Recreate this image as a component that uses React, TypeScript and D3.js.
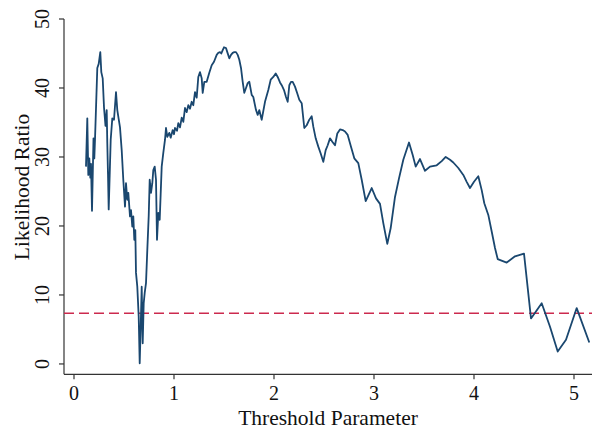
import React from "react";
import * as d3 from "d3";

const thresholds = [
  0.12, 0.133, 0.143, 0.153, 0.163, 0.17, 0.18, 0.195, 0.203, 0.21, 0.233, 0.247, 0.263, 0.273, 0.287, 0.3,
  0.315, 0.327, 0.333, 0.34, 0.347, 0.367, 0.383, 0.4, 0.42, 0.433, 0.447, 0.46, 0.477, 0.493, 0.51, 0.52,
  0.533, 0.543, 0.56, 0.57, 0.583, 0.593, 0.603, 0.613, 0.62, 0.633, 0.647, 0.657, 0.667, 0.677, 0.687, 0.697,
  0.707, 0.72, 0.733, 0.747, 0.757, 0.77, 0.783, 0.793, 0.807, 0.82, 0.83, 0.843, 0.857, 0.877, 0.893, 0.91,
  0.92, 0.933, 0.953, 0.967, 0.987, 1.0, 1.01, 1.03, 1.043, 1.06, 1.077, 1.093, 1.11, 1.127, 1.143, 1.16,
  1.177, 1.193, 1.21, 1.227, 1.243, 1.26, 1.277, 1.287, 1.303, 1.327, 1.353, 1.377, 1.4, 1.427, 1.443, 1.46,
  1.473, 1.487, 1.5, 1.52, 1.533, 1.553, 1.57, 1.587, 1.603, 1.62, 1.637, 1.653, 1.67, 1.687, 1.703, 1.72,
  1.737, 1.753, 1.777, 1.793, 1.82, 1.837, 1.853, 1.877, 1.91, 1.943, 1.967, 1.993, 2.017, 2.037, 2.06, 2.077,
  2.1, 2.12, 2.137, 2.153, 2.17, 2.187, 2.21, 2.233, 2.253, 2.277, 2.303, 2.327, 2.353, 2.377, 2.393, 2.417,
  2.443, 2.467, 2.493, 2.517, 2.537, 2.56, 2.583, 2.61, 2.633, 2.66, 2.687, 2.71, 2.737, 2.77, 2.803, 2.843,
  2.877, 2.917, 2.977, 3.02, 3.06, 3.093, 3.133, 3.167, 3.21, 3.25, 3.293, 3.35, 3.387, 3.417, 3.46, 3.51,
  3.56, 3.627, 3.677, 3.717, 3.76, 3.793, 3.843, 3.893, 3.927, 3.96, 4.0, 4.043, 4.077, 4.103, 4.143, 4.177,
  4.21, 4.237, 4.327, 4.41, 4.5, 4.57, 4.677, 4.76, 4.837, 4.92, 5.027, 5.153,
];

const likelihoodRatio = [
  28.6, 35.6, 27.4, 29.8, 27.0, 29.0, 22.2, 32.7, 29.8, 32.5, 42.9, 43.5, 45.2, 42.3, 41.4, 37.2,
  34.5, 36.8, 32.0, 27.5, 22.4, 32.5, 35.6, 35.4, 39.4, 36.8, 35.5, 34.3, 31.0, 26.7, 22.8, 26.2,
  23.8, 24.8, 21.4, 22.3, 19.9, 21.4, 18.0, 19.4, 13.2, 11.2, 6.9, 0.1, 5.4, 11.2, 3.0, 8.8,
  10.3, 11.7, 16.5, 21.4, 26.7, 24.8, 26.2, 28.1, 28.6, 26.7, 18.0, 21.9, 20.9, 28.6, 30.6, 32.5,
  34.2, 32.9, 33.5, 32.8, 33.9, 33.3, 34.2, 33.8, 34.9, 34.3, 35.7, 35.1, 37.1, 36.5, 37.5, 37.0,
  38.0, 37.5, 39.4, 38.6, 41.6, 42.3, 41.4, 39.3, 40.9, 40.9, 42.2, 43.3, 43.8, 44.8, 45.1, 45.2,
  45.0, 45.5, 45.9, 45.8, 45.2, 44.3, 44.8, 45.1, 45.2, 45.2, 44.8, 44.1, 42.9, 40.9, 39.3, 40.0,
  40.7, 40.9, 39.0, 38.7, 36.8, 36.1, 36.8, 35.4, 38.0, 39.7, 41.2, 41.6, 42.1, 41.6, 40.8, 40.4,
  39.7, 38.7, 38.0, 40.4, 40.9, 40.9, 40.2, 39.2, 38.3, 37.8, 34.2, 34.6, 35.4, 35.9, 34.4, 32.7,
  31.5, 30.5, 29.3, 31.0, 31.7, 32.7, 32.2, 31.7, 33.4, 34.0, 33.9, 33.7, 33.2, 31.5, 29.8, 29.1,
  26.7, 23.6, 25.5, 24.0, 23.2, 20.4, 17.4, 19.7, 24.2, 26.9, 29.6, 32.1, 30.3, 28.6, 29.7, 28.0,
  28.6, 28.8, 29.4, 30.0, 29.6, 29.2, 28.4, 27.4, 26.4, 25.5, 26.4, 27.2, 25.2, 23.3, 21.6, 19.2,
  16.8, 15.2, 14.7, 15.6, 16.0, 6.6, 8.8, 5.4, 1.8, 3.5, 8.1, 3.1,
];

const criticalValue = 7.35;
const xTicks = [0, 1, 2, 3, 4, 5];
const yTicks = [0, 10, 20, 30, 40, 50];
const xTitle = "Threshold Parameter";
const yTitle = "Likelihood Ratio";

const W = 592;
const H = 430;
const FONT = "'Liberation Serif', 'Times New Roman', serif";

export default function App() {
  const x = d3.scaleLinear().domain([-0.1, 5.18]).range([64, 592]);
  const y = d3.scaleLinear().domain([-1.5, 50]).range([374.3, 19]);
  const data = thresholds.map((t, i) => [t, likelihoodRatio[i]] as [number, number]);
  const line = d3
    .line<[number, number]>()
    .x((d) => x(d[0]))
    .y((d) => y(d[1]));
  const x0 = x.range()[0];
  const y0 = y.range()[0];
  const axisColor = "#333";

  return (
    <svg
      width={W}
      height={H}
      style={{ position: "absolute", left: 0, top: 0, background: "#fff" }}
      fontFamily={FONT}
    >
      <rect x={0} y={0} width={W} height={H} fill="#fff" />
      <line x1={x0} x2={x0} y1={y(50)} y2={y0} stroke={axisColor} strokeWidth={1.2} />
      <line x1={x0} x2={W} y1={y0} y2={y0} stroke={axisColor} strokeWidth={1.2} />
      {yTicks.map((t) => (
        <g key={"y" + t}>
          <line x1={x0 - 5} x2={x0} y1={y(t)} y2={y(t)} stroke={axisColor} strokeWidth={1.2} />
          <text
            transform={`translate(${49},${y(t)}) rotate(-90)`}
            textAnchor="middle"
            fontSize={20}
            fill="#111"
          >
            {t}
          </text>
        </g>
      ))}
      {xTicks.map((t) => (
        <g key={"x" + t}>
          <line x1={x(t)} x2={x(t)} y1={y0} y2={y0 + 5} stroke={axisColor} strokeWidth={1.2} />
          <text x={x(t)} y={400} textAnchor="middle" fontSize={20} fill="#111">
            {t}
          </text>
        </g>
      ))}
      <text x={328} y={425} textAnchor="middle" fontSize={21.5} fill="#111">
        {xTitle}
      </text>
      <text
        transform={`translate(${29},${187}) rotate(-90)`}
        textAnchor="middle"
        fontSize={21.5}
        fill="#111"
      >
        {yTitle}
      </text>
      <line
        x1={x0}
        x2={W}
        y1={y(criticalValue)}
        y2={y(criticalValue)}
        stroke="#cc2a4e"
        strokeWidth={1.6}
        strokeDasharray="10,5"
      />
      <path d={line(data) || ""} fill="none" stroke="#1a476f" strokeWidth={1.8} strokeLinejoin="round" />
    </svg>
  );
}
